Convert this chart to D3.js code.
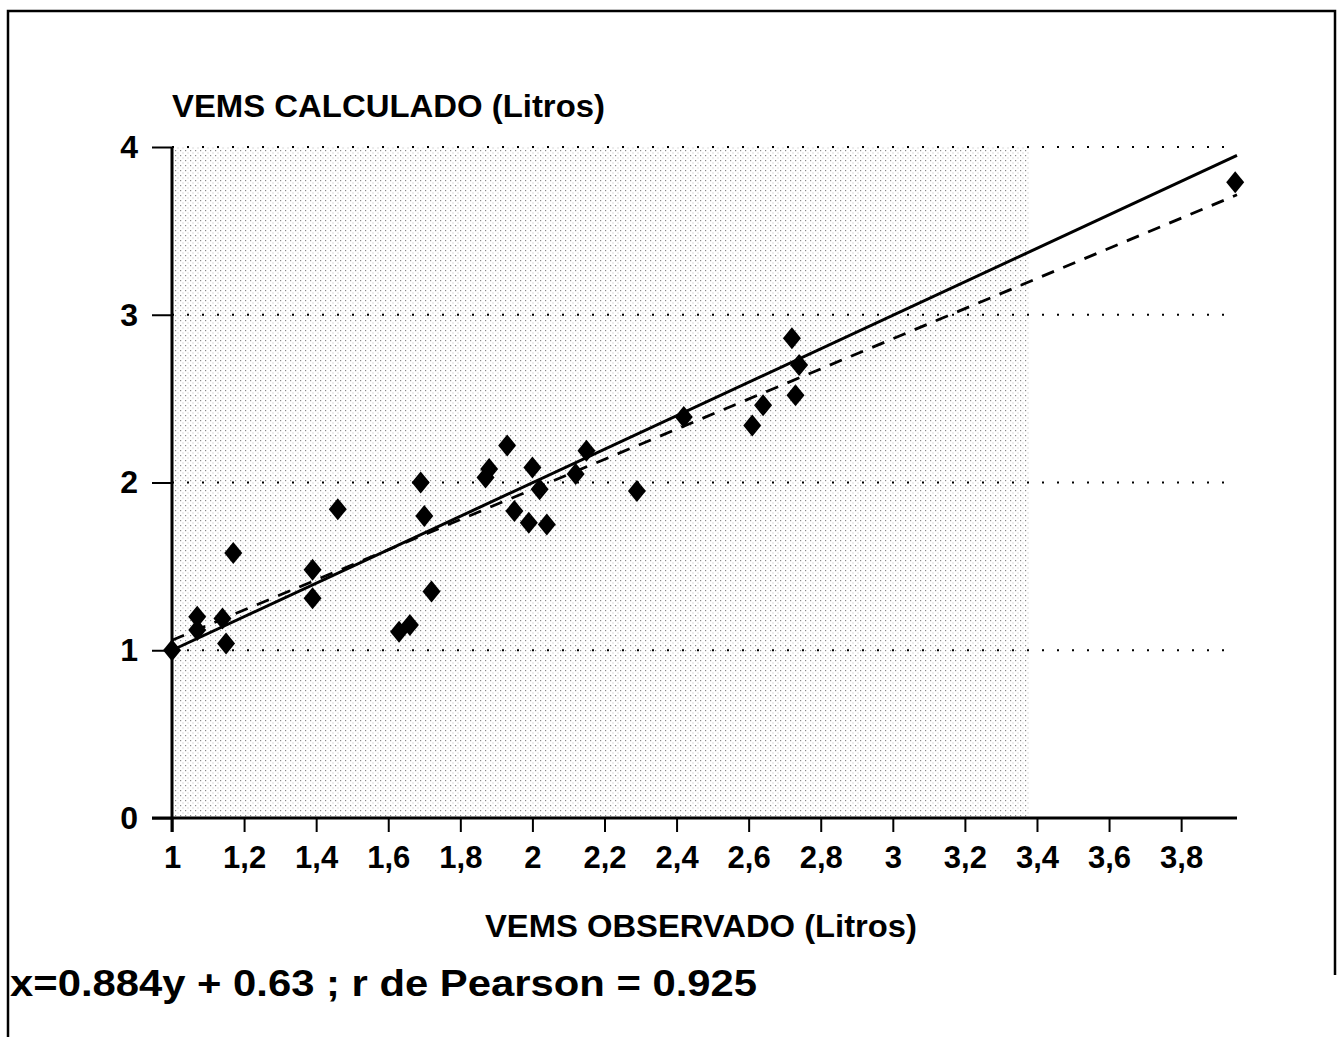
<!DOCTYPE html>
<html>
<head>
<meta charset="utf-8">
<script src="https://cdn.jsdelivr.net/npm/d3@7"></script>
<style>
    body { margin: 0; background: #fff; }
    text { font-family: "Liberation Sans", Arial, sans-serif; font-weight: bold; fill: #000; }
</style>
</head>
<body>
<div id="chart"></div>
<script>
    // VEMS observado (x) vs calculado (y), litros
    const obsX = [1.00, 1.07, 1.07, 1.14, 1.15, 1.17, 1.39, 1.39, 1.46, 1.63, 1.66, 1.69, 1.70, 1.72, 1.87, 1.88,
                  1.93, 1.95, 1.99, 2.00, 2.02, 2.04, 2.12, 2.15, 2.29, 2.42, 2.61, 2.64, 2.72, 2.73, 2.74, 3.95];
    const calcY = [1.00, 1.12, 1.20, 1.19, 1.04, 1.58, 1.48, 1.31, 1.84, 1.11, 1.15, 2.00, 1.80, 1.35, 2.03, 2.08,
                   2.22, 1.83, 1.76, 2.09, 1.96, 1.75, 2.05, 2.19, 1.95, 2.39, 2.34, 2.46, 2.86, 2.52, 2.70, 3.79];

    const xTicks = [1, 1.2, 1.4, 1.6, 1.8, 2, 2.2, 2.4, 2.6, 2.8, 3, 3.2, 3.4, 3.6, 3.8];
    const xTickLabels = ["1", "1,2", "1,4", "1,6", "1,8", "2", "2,2", "2,4", "2,6", "2,8", "3", "3,2", "3,4", "3,6", "3,8"];
    const yTicks = [0, 1, 2, 3, 4];
    const yTickLabels = ["0", "1", "2", "3", "4"];

    // solid = identidad, dashed = recta de regresion
    const identityLine = [[1, 1], [3.955, 3.95]];
    const regressionLine = [[1, 1.06], [3.955, 3.715]];

    const yTitle = "VEMS CALCULADO (Litros)";
    const xTitle = "VEMS OBSERVADO (Litros)";
    const footnote = "x=0.884y + 0.63 ; r de Pearson = 0.925";

    const width = 1337;
    const height = 1037;
    const margin = { top: 147, right: 100, bottom: 219, left: 172 };

    const svg = d3.select("#chart")
        .append("svg")
        .attr("width", width)
        .attr("height", height);

    const x = d3.scaleLinear()
        .domain([1, 3.955])
        .range([margin.left, width - margin.right]);

    const y = d3.scaleLinear()
        .domain([0, 4])
        .range([height - margin.bottom, margin.top]);

    // page frame
    svg.append("path")
        .attr("d", `M8,1037 L8,11 L1335,11 L1335,975`)
        .attr("fill", "none")
        .attr("stroke", "#000")
        .attr("stroke-width", 2.5);

    // halftone shading of the plot area
    const defs = svg.append("defs");
    const pat = defs.append("pattern")
        .attr("id", "stipple")
        .attr("patternUnits", "userSpaceOnUse")
        .attr("width", 5)
        .attr("height", 5);
    pat.append("rect").attr("x", 0).attr("y", 0).attr("width", 1.2).attr("height", 1.2).attr("fill", "#8a8a8a");
    pat.append("rect").attr("x", 2.5).attr("y", 2.5).attr("width", 1).attr("height", 1).attr("fill", "#b8b8b8");

    svg.append("rect")
        .attr("x", x(1))
        .attr("y", y(4))
        .attr("width", x(3.38) - x(1))
        .attr("height", y(0) - y(4))
        .attr("fill", "url(#stipple)");

    // dotted gridlines
    svg.selectAll(".grid")
        .data(yTicks.filter(d => d > 0))
        .enter()
        .append("line")
        .attr("class", "grid")
        .attr("x1", x(1))
        .attr("x2", x.range()[1])
        .attr("y1", d => y(d))
        .attr("y2", d => y(d))
        .attr("stroke", "#000")
        .attr("stroke-width", 2)
        .attr("stroke-dasharray", "2,13");

    // x axis
    const xAxis = svg.append("g")
        .attr("transform", `translate(0,${y(0)})`)
        .call(d3.axisBottom(x)
            .tickValues(xTicks)
            .tickFormat((d, i) => xTickLabels[i])
            .tickSize(14)
            .tickSizeOuter(0)
            .tickPadding(8));
    xAxis.select(".domain").attr("stroke-width", 3)
        .attr("d", `M${x(1) - 20},0H${x.range()[1]}`);
    xAxis.selectAll(".tick line").attr("stroke-width", 2);
    xAxis.selectAll(".tick text")
        .attr("font-size", 31)
        .attr("dy", "0.9em")
        .attr("font-family", "Liberation Sans, Arial, sans-serif")
        .attr("font-weight", "bold")
        .attr("fill", "#000");

    // y axis
    const yAxis = svg.append("g")
        .attr("transform", `translate(${x(1)},0)`)
        .call(d3.axisLeft(y)
            .tickValues(yTicks)
            .tickFormat((d, i) => yTickLabels[i])
            .tickSize(20)
            .tickSizeOuter(0)
            .tickPadding(14));
    yAxis.select(".domain").attr("stroke-width", 3)
        .attr("d", `M0,${y(0) + 14}V${y(4)}`);
    yAxis.selectAll(".tick line").attr("stroke-width", 2);
    yAxis.selectAll(".tick text")
        .attr("font-size", 32)
        .attr("font-family", "Liberation Sans, Arial, sans-serif")
        .attr("font-weight", "bold")
        .attr("fill", "#000");

    // lines
    const line = d3.line().x(d => x(d[0])).y(d => y(d[1]));

    svg.append("path")
        .datum(identityLine)
        .attr("d", line)
        .attr("fill", "none")
        .attr("stroke", "#000")
        .attr("stroke-width", 3);

    svg.append("path")
        .datum(regressionLine)
        .attr("d", line)
        .attr("fill", "none")
        .attr("stroke", "#000")
        .attr("stroke-width", 2.8)
        .attr("stroke-dasharray", "13,10");

    // diamond markers
    const points = obsX.map((v, i) => ({ x: v, y: calcY[i] }));
    svg.selectAll(".pt")
        .data(points)
        .enter()
        .append("path")
        .attr("class", "pt")
        .attr("transform", d => `translate(${x(d.x)},${y(d.y)})`)
        .attr("d", "M0,-11L9,0L0,11L-9,0Z")
        .attr("fill", "#000");

    // titles
    svg.append("text")
        .attr("x", x(1))
        .attr("y", 117)
        .attr("font-size", 32)
        .attr("textLength", 433)
        .attr("lengthAdjust", "spacingAndGlyphs")
        .text(yTitle);

    svg.append("text")
        .attr("x", 485)
        .attr("y", 937)
        .attr("font-size", 32)
        .attr("textLength", 432)
        .attr("lengthAdjust", "spacingAndGlyphs")
        .text(xTitle);

    svg.append("text")
        .attr("x", 10)
        .attr("y", 996)
        .attr("font-size", 36)
        .attr("textLength", 747)
        .attr("lengthAdjust", "spacingAndGlyphs")
        .text(footnote);
</script>
</body>
</html>
